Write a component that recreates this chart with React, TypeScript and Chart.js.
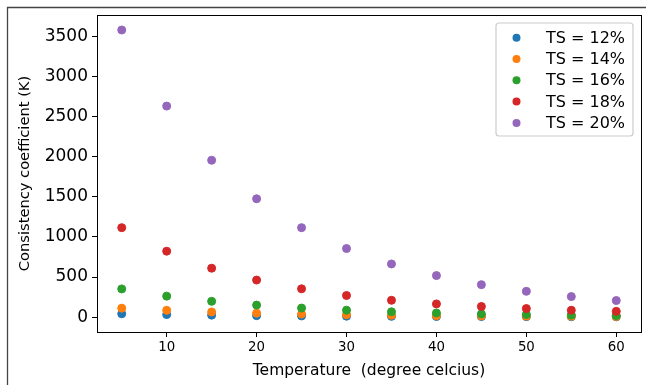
import { useEffect, useRef } from "react";
import { Chart, registerables } from "chart.js";

Chart.register(...registerables);

const temperatures = [5, 10, 15, 20, 25, 30, 35, 40, 45, 50, 55, 60];
const ts12 = [42, 32, 25, 19, 15, 12, 10, 8, 7, 6, 5, 4];
const ts14 = [112, 85, 65, 50, 38, 30, 23, 18, 15, 12, 10, 8];
const ts16 = [352, 262, 197, 150, 113, 87, 67, 52, 40, 33, 26, 20];
const ts18 = [1115, 822, 610, 462, 353, 270, 210, 165, 133, 107, 86, 72];
const ts20 = [3578, 2630, 1955, 1475, 1115, 855, 663, 518, 405, 322, 256, 207];

const seriesLabels = ["TS = 12%", "TS = 14%", "TS = 16%", "TS = 18%", "TS = 20%"];
const seriesColors = ["#1f77b4", "#ff7f0e", "#2ca02c", "#d62728", "#9467bd"];

const xTicks = [10, 20, 30, 40, 50, 60];
const yTicks = [0, 500, 1000, 1500, 2000, 2500, 3000, 3500];

const xTitle = "Temperature  (degree celcius)";
const yTitle = "Consistency coefficient (K)";

const FONT = "'DejaVu Sans', sans-serif";

export default function App() {
  const ref = useRef<HTMLCanvasElement>(null);

  useEffect(() => {
    const canvas = ref.current;
    if (!canvas) return;
    const series = [ts12, ts14, ts16, ts18, ts20];

    const framePlugin = {
      id: "frame",
      beforeDraw(chart: any) {
        const ctx = chart.ctx;
        ctx.save();
        ctx.fillStyle = "#ffffff";
        ctx.fillRect(0, 0, chart.width, chart.height);
        ctx.restore();
      },
      afterDraw(chart: any) {
        const ctx = chart.ctx as CanvasRenderingContext2D;
        const a = chart.chartArea;
        ctx.save();
        // outer figure frame
        ctx.strokeStyle = "#444444";
        ctx.lineWidth = 1.3;
        ctx.beginPath();
        ctx.moveTo(7.5, chart.height);
        ctx.lineTo(7.5, 7.5);
        ctx.lineTo(chart.width, 7.5);
        ctx.stroke();
        // axes spines
        ctx.strokeStyle = "#000000";
        ctx.lineWidth = 1;
        ctx.strokeRect(
          Math.round(a.left) + 0.5,
          Math.round(a.top) + 0.5,
          Math.round(a.right) - Math.round(a.left),
          Math.round(a.bottom) - Math.round(a.top)
        );
        // legend
        const bw = 137;
        const bh = 113;
        const bx = a.right - 8 - bw;
        const by = a.top + 8;
        const r = 3;
        ctx.beginPath();
        ctx.moveTo(bx + r, by);
        ctx.lineTo(bx + bw - r, by);
        ctx.arcTo(bx + bw, by, bx + bw, by + r, r);
        ctx.lineTo(bx + bw, by + bh - r);
        ctx.arcTo(bx + bw, by + bh, bx + bw - r, by + bh, r);
        ctx.lineTo(bx + r, by + bh);
        ctx.arcTo(bx, by + bh, bx, by + bh - r, r);
        ctx.lineTo(bx, by + r);
        ctx.arcTo(bx, by, bx + r, by, r);
        ctx.closePath();
        ctx.fillStyle = "rgba(255,255,255,0.8)";
        ctx.fill();
        ctx.strokeStyle = "#cccccc";
        ctx.lineWidth = 1.2;
        ctx.stroke();
        ctx.font = `16px ${FONT}`;
        ctx.textAlign = "left";
        ctx.textBaseline = "middle";
        seriesLabels.forEach((lab, i) => {
          const y = by + 14.7 + i * 21.3;
          ctx.beginPath();
          ctx.arc(bx + 20.5, y, 4, 0, Math.PI * 2);
          ctx.fillStyle = seriesColors[i];
          ctx.fill();
          ctx.fillStyle = "#000000";
          ctx.fillText(lab, bx + 50, y + 1);
        });
        ctx.restore();
      },
    };

    const chart = new Chart(canvas, {
      type: "scatter",
      data: {
        datasets: series.map((vals, i) => ({
          label: seriesLabels[i],
          data: temperatures.map((t, j) => ({ x: t, y: vals[j] })),
          backgroundColor: seriesColors[i],
          borderColor: seriesColors[i],
          borderWidth: 1,
          pointRadius: 4,
          pointHoverRadius: 4,
          order: series.length - i,
        })),
      },
      options: {
        responsive: false,
        maintainAspectRatio: false,
        animation: false,
        devicePixelRatio: 1,
        events: [],
        layout: { padding: { left: 7, right: 4, top: 15, bottom: 0 } },
        plugins: {
          legend: { display: false },
          tooltip: { enabled: false },
        },
        scales: {
          x: {
            type: "linear",
            min: 2.25,
            max: 62.75,
            afterBuildTicks: (scale: any) => {
              scale.ticks = xTicks.map((v) => ({ value: v }));
            },
            afterFit: (scale: any) => {
              scale.height = 53;
            },
            grid: {
              drawOnChartArea: false,
              drawTicks: true,
              tickLength: 5,
              color: "#000000",
              lineWidth: 1,
            },
            border: { display: false },
            ticks: {
              color: "#000000",
              padding: 3,
              font: { family: FONT, size: 13.33 },
              maxRotation: 0,
              autoSkip: false,
              callback: (v: any) => String(v),
            },
            title: {
              display: true,
              text: xTitle,
              color: "#000000",
              font: { family: FONT, size: 15.5 },
              padding: 5,
            },
          },
          y: {
            type: "linear",
            min: -185,
            max: 3765,
            afterBuildTicks: (scale: any) => {
              scale.ticks = yTicks.map((v) => ({ value: v }));
            },
            afterFit: (scale: any) => {
              scale.width = 90;
            },
            grid: {
              drawOnChartArea: false,
              drawTicks: true,
              tickLength: 5,
              color: "#000000",
              lineWidth: 1,
            },
            border: { display: false },
            ticks: {
              color: "#000000",
              padding: 4,
              font: { family: FONT, size: 17 },
              autoSkip: false,
              callback: (v: any) => String(v),
            },
            title: {
              display: true,
              text: yTitle,
              color: "#000000",
              font: { family: FONT, size: 14.67 },
              padding: 9,
            },
          },
        },
      },
      plugins: [framePlugin],
    } as any);

    return () => chart.destroy();
  }, []);

  return (
    <div style={{ position: "fixed", left: 0, top: 0, width: 646, height: 385 }}>
      <canvas
        ref={ref}
        width={646}
        height={385}
        style={{ display: "block", width: 646, height: 385 }}
      />
    </div>
  );
}
